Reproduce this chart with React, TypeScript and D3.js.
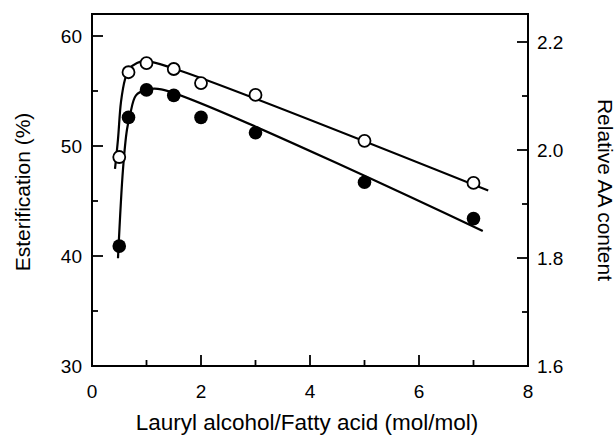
import * as d3 from 'd3';
import { useRef, useEffect } from 'react';

// measured points
const ratios = [0.5, 0.67, 1.0, 1.5, 2.0, 3.0, 5.0, 7.0];
const esterification = [40.9, 52.6, 55.1, 54.6, 52.6, 51.2, 46.7, 43.4];
const aaContent = [1.987, 2.144, 2.161, 2.150, 2.124, 2.102, 2.017, 1.939];

// hand-drawn fit curves
const esterFitX = [0.477, 0.569, 0.642, 0.697, 0.807, 0.99, 1.27, 7.17];
const esterFitY = [39.8, 47.9, 51.5, 52.8, 54.6, 55.1, 55.15, 42.27];
const aaFitX = [0.422, 0.477, 0.532, 0.606, 0.679, 0.826, 0.97, 1.5, 7.27];
const aaFitY = [1.965, 2.02, 2.089, 2.131, 2.15, 2.161, 2.165, 2.151, 1.925];

const xTicks = [0, 2, 4, 6, 8];
const xMinor = [1, 3, 5, 7];
const leftTicks = [30, 40, 50, 60];
const leftMinor = [35, 45, 55];
const rightTicks = [1.6, 1.8, 2.0, 2.2];
const rightMinor = [1.7, 1.9, 2.1];

const App = () => {
    const ref = useRef<SVGSVGElement>(null);

    useEffect(() => {
        if (!ref.current) return;
        d3.select(ref.current).selectAll("*").remove();

        const left = 92, right = 528, top = 14, bottom = 366;
        const font = "'Liberation Sans', Arial, Helvetica, sans-serif";

        const svg = d3.select(ref.current);

        const x = d3.scaleLinear().domain([0, 8]).range([left, right]);
        const yL = d3.scaleLinear().domain([30, 62]).range([bottom, top]);
        const yR = d3.scaleLinear().domain([1.6, 1.6 + 352 / 540]).range([bottom, top]);

        // frame
        svg.append("rect")
            .attr("x", left).attr("y", top)
            .attr("width", right - left).attr("height", bottom - top)
            .attr("fill", "none").attr("stroke", "black").attr("stroke-width", 2);

        const g = svg.append("g").attr("stroke", "black").attr("stroke-width", 1.8);

        // ticks point inward
        xTicks.forEach(t => {
            if (t === 0 || t === 8) return;
            g.append("line").attr("x1", x(t)).attr("x2", x(t)).attr("y1", bottom).attr("y2", bottom - 11);
        });
        xMinor.forEach(t => {
            g.append("line").attr("x1", x(t)).attr("x2", x(t)).attr("y1", bottom).attr("y2", bottom - 6);
        });
        leftTicks.forEach(t => {
            if (t === 30) return;
            g.append("line").attr("x1", left).attr("x2", left + 11).attr("y1", yL(t)).attr("y2", yL(t));
        });
        leftMinor.forEach(t => {
            g.append("line").attr("x1", left).attr("x2", left + 6).attr("y1", yL(t)).attr("y2", yL(t));
        });
        rightTicks.forEach(t => {
            if (t === 1.6) return;
            g.append("line").attr("x1", right).attr("x2", right - 11).attr("y1", yR(t)).attr("y2", yR(t));
        });
        rightMinor.forEach(t => {
            g.append("line").attr("x1", right).attr("x2", right - 6).attr("y1", yR(t)).attr("y2", yR(t));
        });

        // tick labels
        svg.selectAll(".xl").data(xTicks).enter().append("text")
            .attr("x", d => x(d)).attr("y", 398)
            .attr("text-anchor", "middle")
            .style("font-family", font).style("font-size", "19px")
            .text(d => d);
        svg.selectAll(".ll").data(leftTicks).enter().append("text")
            .attr("x", 82).attr("y", d => yL(d) + 7)
            .attr("text-anchor", "end")
            .style("font-family", font).style("font-size", "19px")
            .text(d => d);
        svg.selectAll(".rl").data(rightTicks).enter().append("text")
            .attr("x", 537).attr("y", d => yR(d) + 7)
            .attr("text-anchor", "start")
            .style("font-family", font).style("font-size", "19px")
            .text(d => d.toFixed(1));

        // axis titles
        svg.append("text")
            .attr("x", 307).attr("y", 430)
            .attr("text-anchor", "middle")
            .style("font-family", font).style("font-size", "22.5px")
            .text("Lauryl alcohol/Fatty acid (mol/mol)");
        svg.append("text")
            .attr("transform", "translate(30,192) rotate(-90)")
            .attr("text-anchor", "middle")
            .style("font-family", font).style("font-size", "21px")
            .text("Esterification (%)");
        svg.append("text")
            .attr("transform", "translate(598,190) rotate(90)")
            .attr("text-anchor", "middle")
            .style("font-family", font).style("font-size", "21px")
            .text("Relative AA content");

        // fit curves
        const lineL = d3.line<number>()
            .x((_, i) => x(esterFitX[i]))
            .y(d => yL(d))
            .curve(d3.curveCatmullRom.alpha(0.5));
        const lineR = d3.line<number>()
            .x((_, i) => x(aaFitX[i]))
            .y(d => yR(d))
            .curve(d3.curveCatmullRom.alpha(0.5));

        svg.append("path").attr("d", lineL(esterFitY))
            .attr("fill", "none").attr("stroke", "black").attr("stroke-width", 2.2);
        svg.append("path").attr("d", lineR(aaFitY))
            .attr("fill", "none").attr("stroke", "black").attr("stroke-width", 2.2);

        // markers
        svg.selectAll(".open").data(aaContent).enter().append("circle")
            .attr("cx", (_, i) => x(ratios[i])).attr("cy", d => yR(d))
            .attr("r", 6).attr("fill", "white")
            .attr("stroke", "black").attr("stroke-width", 1.8);
        svg.selectAll(".filled").data(esterification).enter().append("circle")
            .attr("cx", (_, i) => x(ratios[i])).attr("cy", d => yL(d))
            .attr("r", 6.8).attr("fill", "black");
    }, []);

    return (
        <svg ref={ref} width={616} height={436}
            style={{ position: "absolute", left: 0, top: 0, background: "white" }}></svg>
    );
};

export default App;
